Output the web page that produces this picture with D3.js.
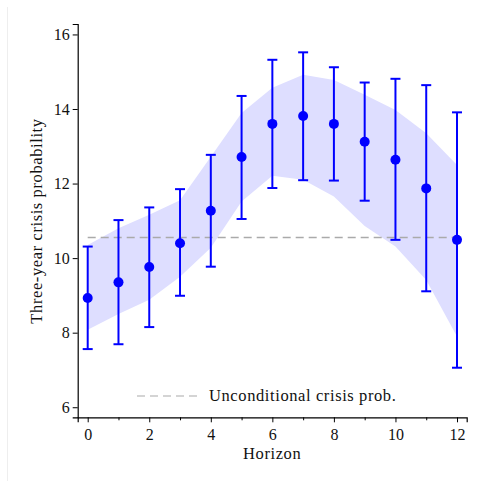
<!DOCTYPE html>
<html>
<head>
<meta charset="utf-8">
<script src="https://cdn.jsdelivr.net/npm/d3@7"></script>
<style>
  body { margin: 0; background: #fff; }
  svg text { font-family: "Liberation Serif", "DejaVu Serif", serif; fill: #111; }
</style>
</head>
<body>
<svg id="chart" width="479" height="481"></svg>
<script>
// data

const horizons  = [0, 1, 2, 3, 4, 5, 6, 7, 8, 9, 10, 11, 12]
const estimate  = [8.93, 9.35, 9.76, 10.40, 11.27, 12.71, 13.60, 13.81, 13.60, 13.12, 12.64, 11.87, 10.49]
const ci_low    = [7.56, 7.69, 8.15, 8.99, 9.77, 11.05, 11.88, 12.09, 12.08, 11.54, 10.49, 9.11, 7.06]
const ci_high   = [10.31, 11.02, 11.36, 11.85, 12.77, 14.35, 15.32, 15.52, 15.12, 14.71, 14.81, 14.64, 13.91]
const band_low  = [8.08, 8.50, 8.88, 9.50, 10.28, 11.52, 12.21, 12.10, 11.65, 10.86, 10.31, 9.41, 7.90]
const band_high = [10.35, 10.80, 11.16, 11.55, 12.72, 13.89, 14.57, 14.92, 14.78, 14.38, 13.97, 13.35, 12.50]
const unconditional = 10.55
const y_ticks = [6, 8, 10, 12, 14, 16]
const x_ticks = [0, 1, 2, 3, 4, 5, 6, 7, 8, 9, 10, 11, 12]

const BLUE = '#0000ff'
const rows = horizons.map( (h, i) => ({
  h: h, est: estimate[i], lo: ci_low[i], hi: ci_high[i], blo: band_low[i], bhi: band_high[i]
}))

const svg = d3.select('#chart')

// faint frame edge on the left
svg.append('line')
  .attr('x1', 7.5).attr('x2', 7.5).attr('y1', 7).attr('y2', 481)
  .attr('stroke', '#eeeeee').attr('stroke-width', 1)

const x = d3.scaleLinear().domain([-0.325, 12.315]).range([77.7, 466.7])
const y = d3.scaleLinear().domain([5.73, 16.28]).range([417.3, 24])

// shaded band
svg.append('path')
  .datum(rows)
  .attr('fill', '#dedeff')
  .attr('d', d3.area()
    .x( (d) => x(d.h) )
    .y0( (d) => y(d.blo) )
    .y1( (d) => y(d.bhi) ))

// unconditional crisis probability
svg.append('line')
  .attr('x1', x(0)).attr('x2', x(12))
  .attr('y1', y(unconditional)).attr('y2', y(unconditional))
  .attr('stroke', '#aaaaaa').attr('stroke-width', 1.5)
  .attr('stroke-dasharray', '8,5')

// error bars
const bars = svg.append('g').attr('stroke', BLUE).attr('stroke-width', 2)
bars.selectAll('line.stem').data(rows).join('line')
  .attr('class', 'stem')
  .attr('x1', (d) => x(d.h)).attr('x2', (d) => x(d.h))
  .attr('y1', (d) => y(d.lo)).attr('y2', (d) => y(d.hi))
bars.selectAll('line.cap-hi').data(rows).join('line')
  .attr('class', 'cap-hi')
  .attr('x1', (d) => x(d.h) - 5).attr('x2', (d) => x(d.h) + 5)
  .attr('y1', (d) => y(d.hi)).attr('y2', (d) => y(d.hi))
bars.selectAll('line.cap-lo').data(rows).join('line')
  .attr('class', 'cap-lo')
  .attr('x1', (d) => x(d.h) - 5).attr('x2', (d) => x(d.h) + 5)
  .attr('y1', (d) => y(d.lo)).attr('y2', (d) => y(d.lo))

svg.append('g').selectAll('circle').data(rows).join('circle')
  .attr('cx', (d) => x(d.h))
  .attr('cy', (d) => y(d.est))
  .attr('r', 5)
  .attr('fill', BLUE)

// axes
const x_axis = svg.append('g')
  .attr('transform', 'translate(0,' + y.range()[0] + ')')
  .call(d3.axisBottom(x)
    .tickValues(x_ticks)
    .tickSize(5)
    .tickFormat( (d) => d % 2 === 0 ? d : '' ))
x_axis.selectAll('.tick').filter( (d) => d % 2 !== 0 ).select('line').attr('y2', 3)

const y_axis = svg.append('g')
  .attr('transform', 'translate(' + x.range()[0] + ',0)')
  .call(d3.axisLeft(y).tickValues(y_ticks).tickSize(5))

svg.selectAll('.domain').attr('stroke', '#000').attr('stroke-width', 1.2)
svg.selectAll('.tick line').attr('stroke', '#000')
svg.selectAll('.tick text')
  .attr('font-size', 16)
  .attr('font-family', '"Liberation Serif", serif')
  .attr('fill', '#111')
x_axis.selectAll('.tick text').attr('dy', '0.9em')
y_axis.selectAll('.tick text').attr('x', -8)

// axis titles
svg.append('text')
  .attr('x', (x.range()[0] + x.range()[1]) / 2)
  .attr('y', 459)
  .attr('text-anchor', 'middle')
  .attr('font-size', 16.5)
  .attr('letter-spacing', 0.6)
  .text('Horizon')

svg.append('text')
  .attr('transform', 'translate(42,' + 221 + ') rotate(-90)')
  .attr('text-anchor', 'middle')
  .attr('font-size', 16.5)
  .attr('letter-spacing', 0.6)
  .text('Three-year crisis probability')

// legend
svg.append('line')
  .attr('x1', 137).attr('x2', 198)
  .attr('y1', 396).attr('y2', 396)
  .attr('stroke', '#aaaaaa').attr('stroke-width', 1.2)
  .attr('stroke-dasharray', '8,5')
svg.append('text')
  .attr('x', 209)
  .attr('y', 401)
  .attr('font-size', 16.5)
  .attr('letter-spacing', 0.6)
  .text('Unconditional crisis prob.')
</script>
</body>
</html>
